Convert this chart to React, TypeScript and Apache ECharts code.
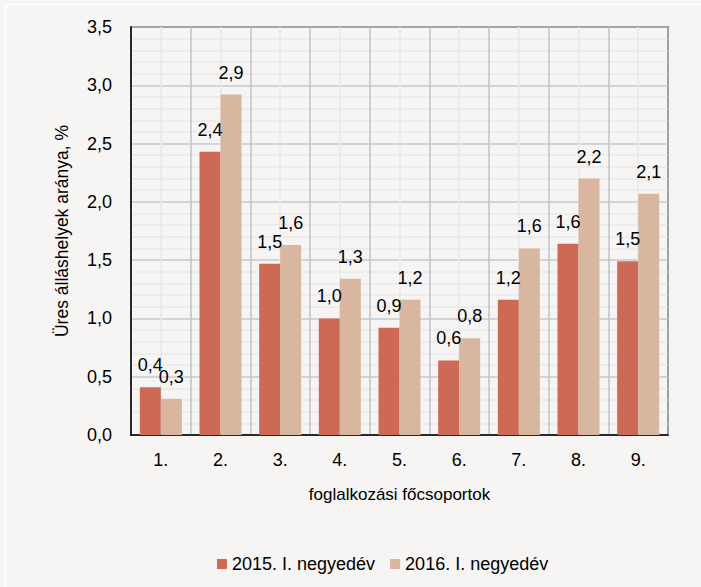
import React, { useEffect, useRef } from "react";
import * as echarts from "echarts";

const categories = ["1.", "2.", "3.", "4.", "5.", "6.", "7.", "8.", "9."];
const series2015 = [0.41, 2.43, 1.47, 1.0, 0.92, 0.64, 1.16, 1.64, 1.49];
const series2016 = [0.31, 2.92, 1.63, 1.34, 1.16, 0.83, 1.6, 2.2, 2.07];
const seriesNames = ["2015. I. negyedév", "2016. I. negyedév"];
const yAxisTitle = "Üres álláshelyek aránya, %";
const xAxisTitle = "foglalkozási főcsoportok";

const FONT = "'Liberation Sans', Arial, sans-serif";
const FS = 18;
const fmt = (v: number) => v.toFixed(1).replace(".", ",");

export default function App() {
  const ref = useRef<HTMLDivElement>(null);
  useEffect(() => {
    if (!ref.current) return;
    const chart = echarts.init(ref.current, undefined, { renderer: "svg" });
    const labelCfg = {
      show: true,
      position: "top" as const,
      distance: 13,
      color: "#000",
      fontSize: FS,
      fontFamily: FONT,
      formatter: (p: any) => fmt(p.value),
    };
    chart.setOption({
      animation: false,
      backgroundColor: "#f6f5f3",
      textStyle: { fontFamily: FONT },
      graphic: [
        { type: "line", shape: { x1: 5, y1: 4.5, x2: 701, y2: 4.5 }, style: { stroke: "#ffffff", lineWidth: 2 }, silent: true },
        { type: "line", shape: { x1: 5.5, y1: 4, x2: 5.5, y2: 587 }, style: { stroke: "#ffffff", lineWidth: 2 }, silent: true },
      ],
      grid: {
        left: 131,
        right: 33,
        top: 27,
        bottom: 152,
        show: true,
        borderColor: "#000",
        borderWidth: 1.5,
        backgroundColor: "transparent",
      },
      legend: {
        data: seriesNames,
        left: 212,
        top: 550,
        itemWidth: 10,
        itemHeight: 10,
        itemGap: 15,
        icon: "rect",
        textStyle: { fontSize: FS, color: "#000", fontFamily: FONT },
      },
      xAxis: [
        {
          type: "category",
          data: categories,
          name: xAxisTitle,
          nameLocation: "middle",
          nameGap: 51,
          nameTextStyle: { fontSize: 17, color: "#000", fontFamily: FONT },
          axisLine: { show: true, lineStyle: { color: "#000", width: 1.5 } },
          axisTick: { show: false },
          axisLabel: { fontSize: FS, color: "#000", fontFamily: FONT, margin: 16 },
          splitLine: { show: false },
        },
        {
          type: "value",
          min: 0,
          max: 9,
          interval: 0.5,
          show: true,
          position: "bottom",
          axisLine: { show: false },
          axisTick: { show: false },
          axisLabel: { show: false },
          splitLine: { show: true, lineStyle: { color: ["#bfc2c8", "#e6e8eb"], width: 1.5 } },
        },
      ],
      yAxis: {
        type: "value",
        min: 0,
        max: 3.5,
        interval: 0.5,
        name: yAxisTitle,
        nameLocation: "middle",
        nameGap: 60,
        nameRotate: 90,
        nameTextStyle: { fontSize: 17.5, color: "#000", fontFamily: FONT },
        axisLine: { show: true, lineStyle: { color: "#000", width: 1.5 } },
        axisTick: { show: false },
        axisLabel: { fontSize: FS, color: "#000", fontFamily: FONT, margin: 19, formatter: (v: number) => fmt(v) },
        splitLine: { show: true, lineStyle: { color: "#c8c9cc", width: 1.5 } },
        minorTick: { show: false, splitNumber: 5 },
        minorSplitLine: { show: true, lineStyle: { color: "#e6e8eb", width: 1.5 } },
      },
      series: [
        {
          name: seriesNames[0],
          type: "bar",
          data: series2015,
          barWidth: 21,
          barGap: "0%",
          itemStyle: { color: "#cd6a55" },
          label: labelCfg,
        },
        {
          name: seriesNames[1],
          type: "bar",
          data: series2016,
          barWidth: 21,
          barGap: "0%",
          itemStyle: { color: "#d8b6a0" },
          label: labelCfg,
        },
      ],
    });
    return () => chart.dispose();
  }, []);
  return (
    <div
      ref={ref}
      style={{ position: "fixed", left: 0, top: 0, width: 701, height: 587 }}
    />
  );
}
